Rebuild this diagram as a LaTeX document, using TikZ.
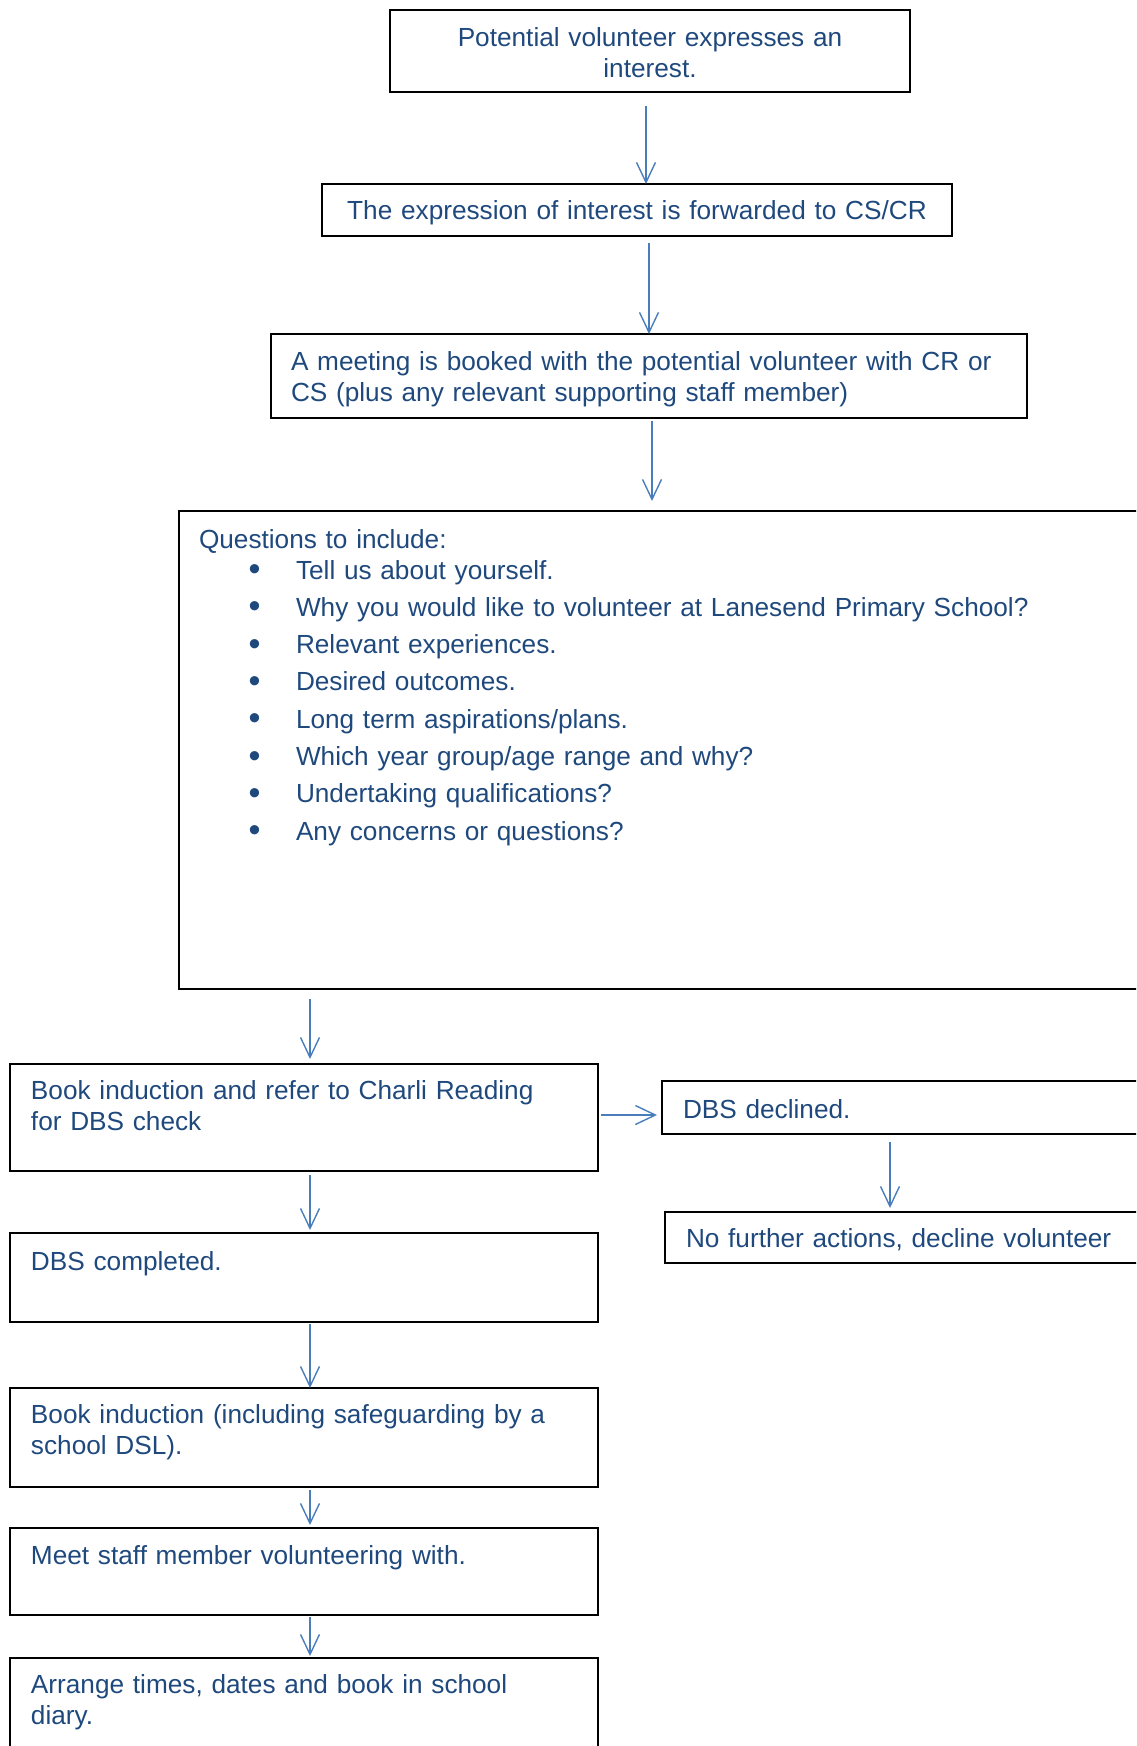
\documentclass[tikz,border=0pt]{standalone}
\usepackage{fontspec}
\setmainfont{Liberation Sans}
\usepackage{xcolor}
\usetikzlibrary{arrows.meta}

\definecolor{boxtext}{HTML}{1F497D}
\definecolor{flowline}{HTML}{4A7EBB}

\tikzset{
  stepbox/.style={draw=black, line width=1pt, anchor=north west, outer sep=0pt,
    inner ysep=0pt, inner xsep=10pt, align=left, text=boxtext,
    font=\fontsize{13.1}{15.5}\selectfont},
  flow/.style={draw=flowline, line width=0.7pt, -{Straight Barb[length=10pt,width=9.5pt]}}
}
\newcommand{\qitem}[1]{\hspace*{24.8pt}\makebox[23.7pt][l]{\raisebox{-0.8pt}{\scalebox{1.3}{\textbullet}}}#1}

\begin{document}
\begin{tikzpicture}[x=0.5pt, y=-0.5pt]
\useasboundingbox (0,0) rectangle (1136,1746);
\clip (0,0) rectangle (1136,1746);

\node[stepbox, align=center, text width=240pt, text height=18pt, text depth=23pt] (interest) at (390,10)
  {Potential volunteer expresses an\\interest.};
\node[stepbox, align=center, text width=295pt, text height=17.5pt, text depth=8.5pt] (forward) at (322,184)
  {The expression of interest is forwarded to CS/CR};
\node[stepbox, text width=358pt, text height=18pt, text depth=24pt] (meeting) at (271,334)
  {A meeting is booked with the potential volunteer with CR or\\CS (plus any relevant supporting staff member)};

% questions box runs off the right edge
\node[stepbox, text width=490.5pt, text height=18.5pt, text depth=220.5pt] (questions) at (179,511)
  {Questions to include:\\[0pt]
   \qitem{Tell us about yourself.}\\[3.15pt]
   \qitem{Why you would like to volunteer at Lanesend Primary School?}\\[3.15pt]
   \qitem{Relevant experiences.}\\[3.15pt]
   \qitem{Desired outcomes.}\\[3.15pt]
   \qitem{Long term aspirations/plans.}\\[3.15pt]
   \qitem{Which year group/age range and why?}\\[3.15pt]
   \qitem{Undertaking qualifications?}\\[3.15pt]
   \qitem{Any concerns or questions?}};

\node[stepbox, inner xsep=10.5pt, text width=273pt, text height=17.5pt, text depth=36pt] (refer) at (10,1064)
  {Book induction and refer to Charli Reading\\for DBS check};
\node[stepbox, inner xsep=10.5pt, text width=248pt, text height=18.5pt, text depth=8pt] (declined) at (662,1081)
  {DBS declined.};
\node[stepbox, inner xsep=10.5pt, text width=246.5pt, text height=17.5pt, text depth=8pt] (nofurther) at (665,1212)
  {No further actions, decline volunteer};
\node[stepbox, inner xsep=10.5pt, text width=273pt, text height=18.5pt, text depth=26pt] (completed) at (10,1233)
  {DBS completed.};
\node[stepbox, inner xsep=10.5pt, text width=273pt, text height=17.5pt, text depth=32pt] (induction) at (10,1388)
  {Book induction (including safeguarding by a\\school DSL).};
\node[stepbox, inner xsep=10.5pt, text width=273pt, text height=18pt, text depth=25.5pt] (meetstaff) at (10,1528)
  {Meet staff member volunteering with.};
\node[stepbox, inner xsep=10.5pt, text width=273pt, text height=17.5pt, text depth=53.5pt] (arrange) at (10,1658)
  {Arrange times, dates and book in school\\diary.};

\draw[flow] ([xshift=-2pt,yshift=-7pt]interest.south) -- ([xshift=-2pt]interest.south |- forward.north);
\draw[flow] ([xshift=6pt,yshift=-3.5pt]forward.south) -- ([xshift=6pt]forward.south |- meeting.north);
\draw[flow, shorten >=5pt] ([xshift=1.5pt,yshift=-1.5pt]meeting.south) -- ([xshift=1.5pt]meeting.south |- questions.north);
\draw[flow, shorten >=2.5pt] ([xshift=3pt,yshift=-5pt]refer.north |- questions.south) -- ([xshift=3pt]refer.north);
\draw[flow, shorten >=2.5pt] ([xshift=1.5pt,yshift=1.25pt]refer.east) -- ([yshift=1.25pt]refer.east -| declined.west);
\draw[flow, shorten >=2pt] ([xshift=114pt,yshift=-4pt]declined.south west) -- ([xshift=114pt]declined.south west |- nofurther.north);
\draw[flow, shorten >=1.5pt] ([xshift=3pt,yshift=-2pt]refer.south) -- ([xshift=3pt]completed.north);
\draw[flow] ([xshift=3pt,yshift=-1pt]completed.south) -- ([xshift=3pt]induction.north);
\draw[flow, shorten >=1.5pt] ([xshift=3pt,yshift=-1.5pt]induction.south) -- ([xshift=3pt]meetstaff.north);
\draw[flow, shorten >=1pt] ([xshift=3pt,yshift=-1pt]meetstaff.south) -- ([xshift=3pt]arrange.north);
\end{tikzpicture}
\end{document}
